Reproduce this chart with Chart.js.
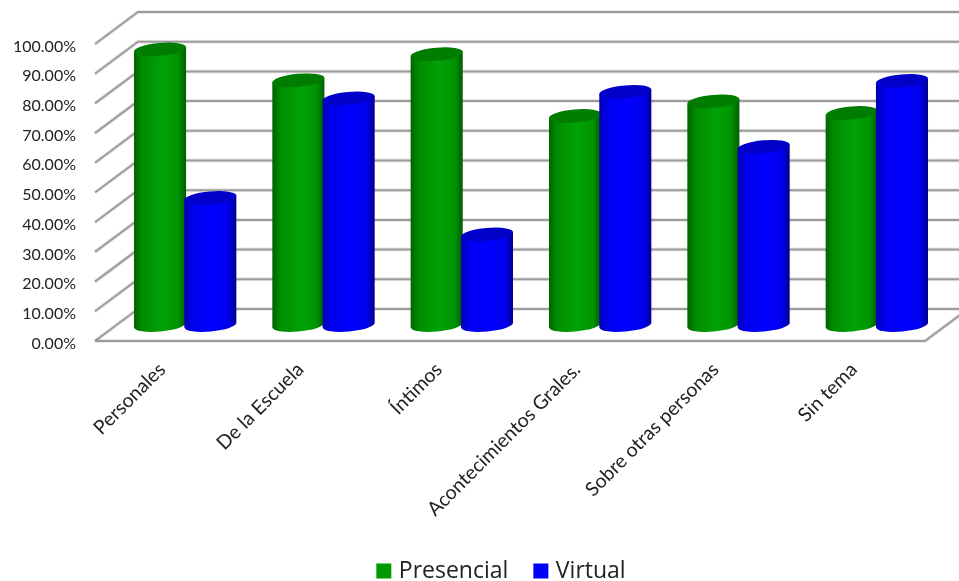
<!DOCTYPE html>
<html lang="es">
<head>
<meta charset="utf-8">
<title>Presencial / Virtual</title>
<script src="https://cdn.jsdelivr.net/npm/chart.js@4/dist/chart.umd.min.js"></script>
<style>
  html, body { margin: 0; padding: 0; background: #fff; }
  canvas { display: block; }
</style>
</head>
<body>
<canvas id="temasChart" width="959" height="581"></canvas>
<script>
// ── Data ───────────────────────────────────────
const categories = ['Personales', 'De la Escuela', 'Íntimos', 'Acontecimientos Grales.', 'Sobre otras personas', 'Sin tema'];
const presencial = [92.8, 82.4, 91.2, 70.4, 75.3, 71.4];
const virtual = [42.8, 76.3, 30.5, 78.5, 60.0, 82.2];

// ── 3D look ────────────────────────────────────
const WALL_DX = 43, WALL_DY = -32;      // front plane to back wall
const BAR_DX = 21, BAR_DY = -16;        // bars stand halfway into the floor
const ELLIPSE_RY = 6.5, ELLIPSE_TILT = -0.09;

const cylinderColors = [
    { top: '#007c00', stops: ['#006400', '#008c00', '#00a206', '#009400', '#005c00'] },
    { top: '#0000c8', stops: ['#0000b0', '#0000ee', '#0000ff', '#0000ee', '#000090'] }
];
const gradientStops = [0, 0.16, 0.55, 0.84, 1];

function wallStroke(ctx, points) {
    [[4, 'rgba(0,0,0,0.09)'], [2, '#9c9c9c']].forEach(([w, c]) => {
        ctx.beginPath();
        points.forEach((p, i) => i ? ctx.lineTo(p[0], p[1]) : ctx.moveTo(p[0], p[1]));
        ctx.lineWidth = w;
        ctx.strokeStyle = c;
        ctx.stroke();
    });
}

function drawCylinder(ctx, el, colors) {
    const rx = el.width / 2 + 1;
    const cx = el.x + BAR_DX;
    const top = el.y + BAR_DY;
    const base = el.base + BAR_DY;
    const lx = rx * Math.cos(ELLIPSE_TILT), ly = rx * Math.sin(ELLIPSE_TILT);

    const grad = ctx.createLinearGradient(cx - rx, 0, cx + rx, 0);
    gradientStops.forEach((s, i) => grad.addColorStop(s, colors.stops[i]));

    ctx.beginPath();
    ctx.ellipse(cx, base, rx, ELLIPSE_RY, ELLIPSE_TILT, 0, Math.PI);
    ctx.lineTo(cx - lx, top - ly);
    ctx.lineTo(cx + lx, top + ly);
    ctx.closePath();
    ctx.fillStyle = grad;
    ctx.fill();

    // flat top of the cylinder
    ctx.beginPath();
    ctx.ellipse(cx, top, rx, ELLIPSE_RY, ELLIPSE_TILT, 0, Math.PI * 2);
    ctx.fillStyle = colors.top;
    ctx.fill();
}

// ── Walls and cylinders ────────────────────────
const scene3d = {
    id: 'scene3d',
    beforeDatasetsDraw(chart) {
        const { ctx, scales: { x, y } } = chart;
        ctx.save();
        y.ticks.forEach(t => {
            const py = y.getPixelForValue(t.value);
            wallStroke(ctx, [[x.left, py], [x.left + WALL_DX, py + WALL_DY], [chart.width + 20, py + WALL_DY]]);
        });
        const floor = y.getPixelForValue(0);
        wallStroke(ctx, [[x.left, floor], [x.right, floor], [x.right + WALL_DX, floor + WALL_DY]]);

        chart.data.datasets.forEach((ds, i) => {
            chart.getDatasetMeta(i).data.forEach(el => drawCylinder(ctx, el, cylinderColors[i]));
        });
        ctx.restore();
        return false;
    }
};

// legend sits under the floor, not under the whole canvas
const legendShift = {
    id: 'legendShift',
    afterLayout(chart) {
        chart.legend.left += 40.5;
        chart.legend.right += 40.5;
        chart.legend.top += 11.5;
        chart.legend.bottom += 11.5;
    }
};

new Chart(document.getElementById('temasChart'), {
    type: 'bar',
    data: {
        labels: categories,
        datasets: [
            // small box plus a wide border gives the legend square a tighter gap to its text
            { label: 'Presencial', data: presencial, backgroundColor: '#009900', borderColor: '#009900', borderWidth: 8 },
            { label: 'Virtual', data: virtual, backgroundColor: '#0000ff', borderColor: '#0000ff', borderWidth: 8 }
        ]
    },
    options: {
        responsive: false,
        animation: false,
        events: [],
        layout: { padding: { top: 44, right: 34, left: 0, bottom: 0 } },
        datasets: { bar: { categoryPercentage: 0.727, barPercentage: 1 } },
        plugins: {
            legend: {
                position: 'bottom',
                labels: { boxWidth: 7, boxHeight: 7, padding: 29, color: '#222', font: { family: 'Open Sans', size: 23 } }
            },
            tooltip: { enabled: false }
        },
        scales: {
            x: {
                grid: { display: false },
                border: { display: false },
                ticks: {
                    autoSkip: false, maxRotation: 45, minRotation: 45, padding: 9, labelOffset: -2,
                    color: '#222', font: { family: 'Lato', size: 19.5 }
                },
                afterFit(s) { s.height = 240 - s.chart.legend.height; }
            },
            y: {
                min: 0,
                max: 100,
                grid: { display: false, drawTicks: false },
                border: { display: false },
                ticks: {
                    stepSize: 10, padding: 19, labelOffset: 2.5,
                    color: '#222', font: { family: 'Lato', size: 16 },
                    callback: v => v.toFixed(2) + '%'
                },
                afterFit(s) { s.width = 95; }
            }
        }
    },
    plugins: [scene3d, legendShift]
});
</script>
</body>
</html>
